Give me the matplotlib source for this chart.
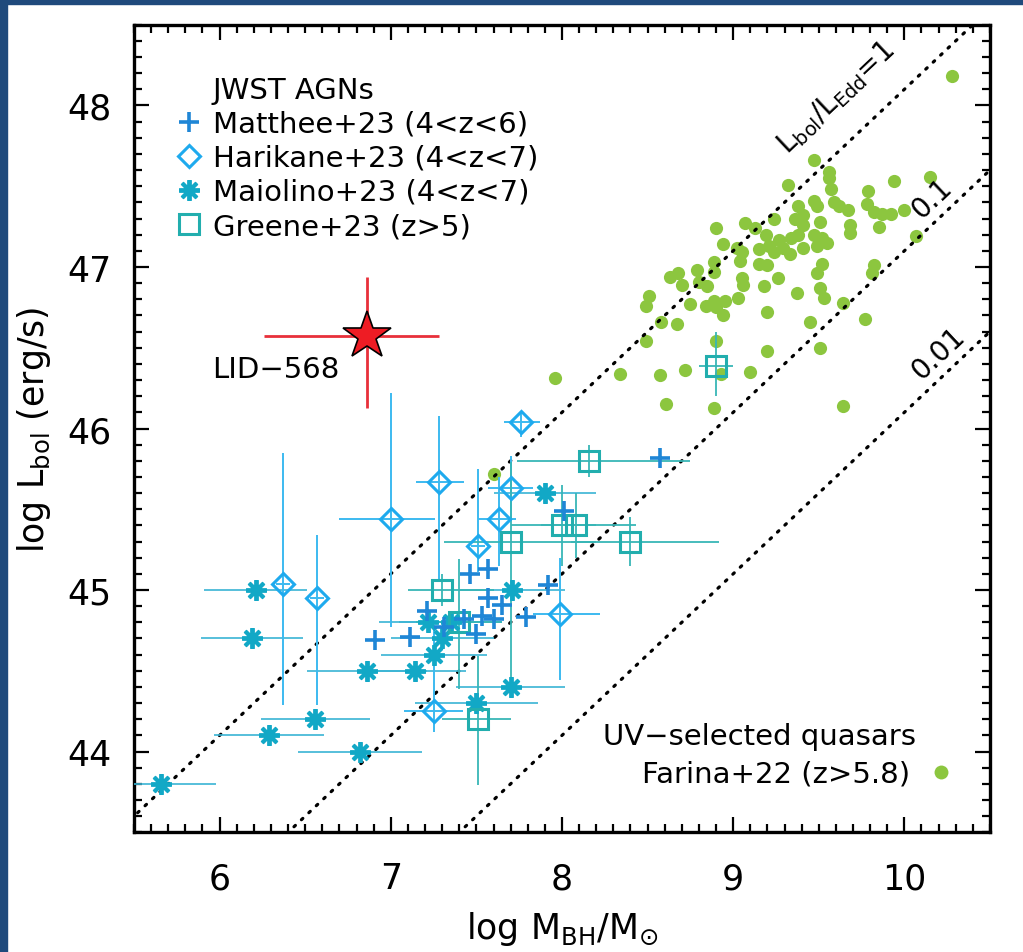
import numpy as np
import matplotlib
matplotlib.use('Agg')
import matplotlib.pyplot as plt
from matplotlib.lines import Line2D
from matplotlib.patches import Rectangle

plt.rcParams['font.family'] = ['DejaVu Sans']
plt.rcParams['mathtext.fontset'] = 'dejavusans'

# --- data ---
# Farina+22 UV-selected quasars
farina_x = [9.47, 9.56, 9.56, 9.32, 9.57, 10.15, 9.94, 9.79, 9.47, 9.49,
            9.38, 9.59, 9.62, 9.67, 9.78, 9.82, 9.87, 9.92, 10.00, 10.07,
            9.36, 9.41, 9.41, 9.51, 9.68, 9.68, 9.85, 9.24, 9.07, 9.13,
            8.90, 9.19, 9.27, 9.34, 9.38, 9.47, 9.52, 9.55, 9.21, 9.29,
            9.41, 9.49, 9.24, 9.33, 9.15, 8.94, 9.02, 9.05, 9.04, 9.15,
            9.20, 8.89, 8.79, 8.89, 8.63, 8.68, 8.70, 8.80, 8.85, 9.05,
            9.06, 9.18, 9.26, 9.52, 9.49, 9.82, 9.81, 9.51, 9.53, 9.37,
            8.51, 8.49, 8.75, 8.84, 8.89, 8.95, 9.03, 8.90, 8.94, 8.58,
            8.67, 8.49, 8.90, 9.20, 9.64, 9.45, 9.77, 9.51, 9.20, 9.10,
            8.72, 8.57, 8.34, 7.96, 8.93, 8.61, 8.89, 9.64, 10.28, 7.60]
farina_y = [47.66, 47.59, 47.55, 47.51, 47.48, 47.56, 47.53, 47.47, 47.41, 47.38,
            47.38, 47.40, 47.38, 47.35, 47.39, 47.34, 47.33, 47.33, 47.35, 47.19,
            47.30, 47.32, 47.26, 47.28, 47.26, 47.21, 47.25, 47.30, 47.27, 47.24,
            47.24, 47.20, 47.17, 47.18, 47.20, 47.20, 47.18, 47.15, 47.13, 47.12,
            47.12, 47.13, 47.09, 47.08, 47.11, 47.14, 47.12, 47.09, 47.04, 47.02,
            47.01, 47.03, 46.98, 46.97, 46.94, 46.96, 46.89, 46.91, 46.88, 46.93,
            46.89, 46.88, 46.93, 47.02, 46.96, 47.01, 46.96, 46.87, 46.81, 46.84,
            46.82, 46.76, 46.77, 46.76, 46.79, 46.79, 46.81, 46.75, 46.70, 46.66,
            46.65, 46.54, 46.54, 46.72, 46.78, 46.66, 46.68, 46.50, 46.48, 46.35,
            46.36, 46.33, 46.34, 46.31, 46.34, 46.15, 46.13, 46.14, 48.18, 45.72]

# Matthee+23
matthee_x = [6.91, 7.11, 7.21, 7.31, 7.46, 7.57, 7.57, 7.65, 7.53, 7.60,
             7.50, 8.01, 7.92, 7.79, 8.57, 7.43]
matthee_y = [44.69, 44.71, 44.87, 44.77, 45.10, 45.13, 44.95, 44.91, 44.84, 44.82,
             44.73, 45.49, 45.03, 44.83, 45.82, 44.82]

# Harikane+23
harikane_x = [6.37, 6.57, 7.00, 7.28, 7.76, 7.70, 7.63, 7.51, 7.25, 7.99]
harikane_y = [45.04, 44.95, 45.44, 45.67, 46.04, 45.63, 45.44, 45.27, 44.25, 44.85]
harikane_xlo = [0.04, 0.04, 0.30, 0.13, 0.10, 0.13, 0.12, 0.04, 0.17, 0.16]
harikane_xhi = [0.04, 0.04, 0.26, 0.15, 0.11, 0.13, 0.10, 0.04, 0.17, 0.23]
harikane_ylo = [0.75, 0.66, 0.67, 0.60, 0.09, 0.20, 0.29, 0.16, 0.13, 0.41]
harikane_yhi = [0.81, 0.39, 0.78, 0.41, 0.06, 0.20, 0.26, 0.48, 0.50, 0.35]

# Maiolino+23
maiolino_x = [5.66, 6.21, 6.19, 6.29, 6.56, 6.82, 6.86, 7.14, 7.25, 7.22,
              7.30, 7.35, 7.71, 7.90, 7.70, 7.50]
maiolino_y = [43.80, 45.00, 44.70, 44.10, 44.20, 44.00, 44.50, 44.50, 44.60, 44.80,
              44.70, 44.80, 45.00, 45.60, 44.40, 44.30]
maiolino_xerr = [0.32, 0.30, 0.30, 0.32, 0.32, 0.36, 0.35, 0.30, 0.31, 0.29,
                 0.30, 0.30, 0.31, 0.30, 0.32, 0.36]

# Greene+23
greene_x = [7.30, 7.40, 7.70, 7.51, 8.00, 8.08, 8.16, 8.40, 8.90]
greene_y = [45.00, 44.80, 45.30, 44.20, 45.40, 45.40, 45.80, 45.30, 46.39]
greene_xlo = [0.20, 0.25, 0.39, 0.21, 0.30, 0.20, 0.42, 0.35, 0.10]
greene_xhi = [0.30, 0.25, 0.50, 0.19, 0.20, 0.35, 0.59, 0.52, 0.10]
greene_ylo = [0.10, 0.41, 0.91, 0.41, 0.25, 0.20, 0.10, 0.15, 0.19]
greene_yhi = [0.10, 0.39, 0.49, 0.39, 0.25, 0.20, 0.10, 0.15, 0.21]

# LID-568
lid_x, lid_y = 6.86, 46.57
lid_xerr = [[0.60], [0.42]]
lid_yerr = [[0.44], [0.37]]

# Eddington ratios for the dotted lines
edd_ratios = [1.0, 0.1, 0.01]
edd_labels = [r'L$_{\rm bol}$/L$_{\rm Edd}$=1', '0.1', '0.01']
edd_label_x = [9.60, 10.16, 10.20]
edd_label_y = [48.05, 47.43, 46.47]

c_matthee = '#1f86d6'
c_harikane = '#1eaaee'
c_maiolino = '#12a8c6'
c_greene = '#22aeae'
c_green = '#8cc63f'

fig = plt.figure(figsize=(10.23, 9.53), dpi=100)
ax = fig.add_axes([0.131, 0.1256, 0.8367, 0.8474])

# dark frame strips of the slide
fig.add_artist(Rectangle((0, 0), 7 / 1023, 1, transform=fig.transFigure,
                         color='#1f4a7c', zorder=0))
fig.add_artist(Rectangle((0, 1 - 5 / 953), 1, 5 / 953, transform=fig.transFigure,
                         color='#1f4a7c', zorder=0))

xx = np.array([5.0, 11.0])
for r in edd_ratios:
    ax.plot(xx, xx + 38.1 + np.log10(r), color='black', lw=2.3,
            ls=(0, (0.6, 2.6)), dash_capstyle='round', zorder=3)
for lab, lx, ly in zip(edd_labels, edd_label_x, edd_label_y):
    ax.text(lx, ly, lab, rotation=45, transform_rotates_text=True,
            rotation_mode='anchor', ha='center', va='center', fontsize=20)

ax.plot(farina_x, farina_y, 'o', color=c_green, ms=9.5, mec='none', zorder=2)

ax.errorbar(maiolino_x, maiolino_y, xerr=maiolino_xerr, fmt='none',
            ecolor='#3ab4d4', elinewidth=1.2, capsize=0, zorder=4)
ax.plot(maiolino_x, maiolino_y, ls='none', marker=(8, 2, 0), ms=15,
        mew=2.8, color=c_maiolino, zorder=5)

ax.errorbar(harikane_x, harikane_y, xerr=[harikane_xlo, harikane_xhi],
            yerr=[harikane_ylo, harikane_yhi], fmt='none',
            ecolor='#3cbaf0', elinewidth=1.4, capsize=0, zorder=4)
ax.plot(harikane_x, harikane_y, ls='none', marker='D', ms=11, mfc='none',
        mew=2.2, mec=c_harikane, zorder=5)

ax.errorbar(greene_x, greene_y, xerr=[greene_xlo, greene_xhi],
            yerr=[greene_ylo, greene_yhi], fmt='none',
            ecolor='#38b6b6', elinewidth=1.3, capsize=0, zorder=4)
ax.plot(greene_x, greene_y, ls='none', marker='s', ms=14, mfc='none',
        mew=2.2, mec=c_greene, zorder=5)

ax.plot(matthee_x, matthee_y, ls='none', marker='+', ms=15, mew=2.6,
        color=c_matthee, zorder=6)

ax.errorbar([lid_x], [lid_y], xerr=lid_xerr, yerr=lid_yerr, fmt='none',
            ecolor='#e8303a', elinewidth=2.0, capsize=0, zorder=7)
ax.plot([lid_x], [lid_y], ls='none', marker='*', ms=36, mfc='#ee1c24',
        mec='black', mew=1.2, zorder=8)
ax.text(6.33, 46.37, 'LID\u2212568', fontsize=21, ha='center', va='center')

ax.set_xlim(5.5, 10.5)
ax.set_ylim(43.5, 48.5)
ax.set_xticks([6, 7, 8, 9, 10])
ax.set_yticks([44, 45, 46, 47, 48])
ax.set_xticks(np.arange(5.5, 10.51, 0.1), minor=True)
ax.set_yticks(np.arange(43.5, 48.51, 0.1), minor=True)
ax.tick_params(which='both', direction='in', top=True, right=True,
               width=1.6, labelsize=25)
ax.tick_params(which='major', length=11)
ax.tick_params(which='minor', length=5.5)
ax.tick_params(axis='x', pad=21)
ax.tick_params(axis='y', pad=16)
for s in ax.spines.values():
    s.set_linewidth(2.4)

ax.set_xlabel(r'log M$_{\rm BH}$/M$_{\odot}$', fontsize=25)
ax.set_ylabel(r'log L$_{\rm bol}$ (erg/s)', fontsize=25)
ax.xaxis.set_label_coords(0.5, -0.095)
ax.yaxis.set_label_coords(-0.095, 0.5)

handles = [Line2D([], [], ls='none'),
           Line2D([], [], ls='none', marker='+', ms=15, mew=2.6, color=c_matthee),
           Line2D([], [], ls='none', marker='D', ms=11, mfc='none', mew=2.2,
                  mec=c_harikane),
           Line2D([], [], ls='none', marker=(8, 2, 0), ms=15, mew=2.8,
                  color=c_maiolino),
           Line2D([], [], ls='none', marker='s', ms=14, mfc='none', mew=2.2,
                  mec=c_greene)]
labels = ['JWST AGNs', 'Matthee+23 (4<z<6)', 'Harikane+23 (4<z<7)',
          'Maiolino+23 (4<z<7)', 'Greene+23 (z>5)']
leg = ax.legend(handles, labels, loc='upper left', bbox_to_anchor=(0.0475, 0.937),
                frameon=False, fontsize=21, handlelength=1.0, handletextpad=0.31,
                labelspacing=0.21, borderpad=0, borderaxespad=0)
ax.add_artist(leg)

ax.text(0.9136, 0.1187, 'UV\u2212selected quasars', transform=ax.transAxes,
        ha='right', va='center', fontsize=21)
far_h = [Line2D([], [], ls='none', marker='o', ms=10, color=c_green, mec='none')]
ax.legend(far_h, ['Farina+22 (z>5.8)'], loc='center right',
          bbox_to_anchor=(0.960, 0.0724), frameon=False, fontsize=21,
          markerfirst=False, handlelength=1.0, handletextpad=0.55,
          borderpad=0, borderaxespad=0)

fig.savefig('out.png', dpi=100)
